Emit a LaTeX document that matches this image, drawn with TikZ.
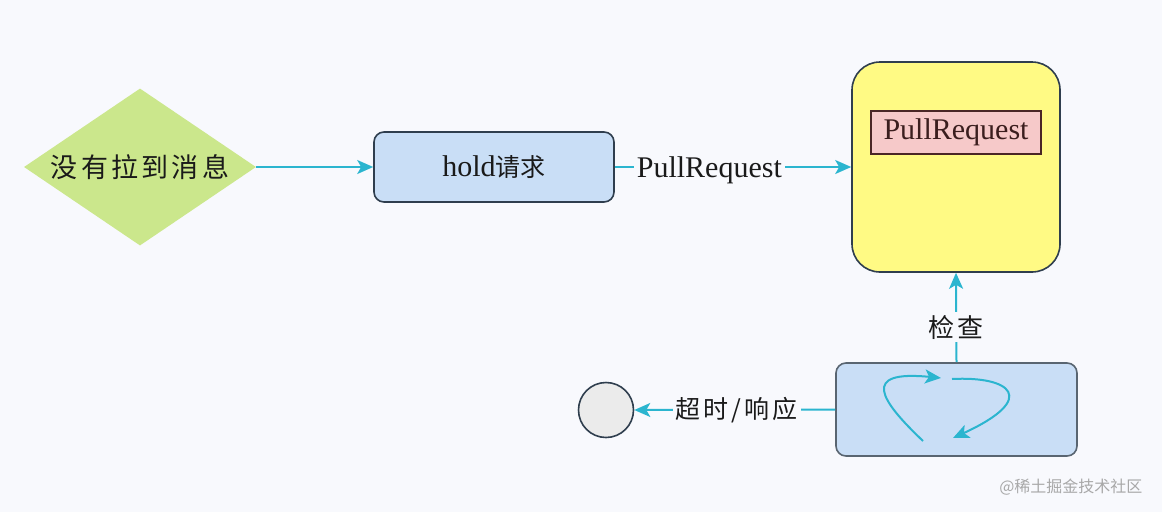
\documentclass[tikz,border=0pt]{standalone}
\usepackage{fontspec}
\setmainfont{Liberation Serif}
\newfontfamily\cjk{Noto Sans CJK SC}
\newfontfamily\cjksp[LetterSpace=12]{Noto Sans CJK SC}
\usetikzlibrary{shapes.geometric,arrows.meta}
\definecolor{bg}{HTML}{F8F9FD}
\definecolor{cyanline}{HTML}{2BB5CF}
\definecolor{greenfill}{HTML}{CBE78C}
\definecolor{bluefill}{HTML}{C9DEF6}
\definecolor{darkedge}{HTML}{2F3E4E}
\definecolor{yellowfill}{HTML}{FFFA84}
\definecolor{pinkfill}{HTML}{F6C9C9}
\definecolor{pinkedge}{HTML}{4A2626}
\definecolor{greyfill}{HTML}{EBEBEB}
\definecolor{txt}{HTML}{1A1A1A}
\definecolor{wm}{HTML}{A8A8A8}
\tikzset{
  arr/.style={draw=cyanline, line width=2pt, -{Stealth[length=16pt,width=14pt,inset=4pt]}},
  lbl/.style={fill=bg, inner sep=3pt, text=txt},
  bluebox/.style={draw=darkedge, line width=1.6pt, fill=bluefill, rounded corners=10pt, inner sep=0pt},
}
\begin{document}
\begin{tikzpicture}[x=1pt,y=-1pt]
\fill[bg] (0,0) rectangle (1162,512);
\useasboundingbox (0,0) rectangle (1162,512);

\node[diamond, fill=greenfill, inner sep=0pt, minimum width=232pt, minimum height=157pt, aspect=1.48, text=txt, font=\cjksp\fontsize{27}{30}\selectfont] (dia) at (140,167) {没有拉到消息};

\node[bluebox, minimum width=240pt, minimum height=70pt, text=txt, font=\fontsize{30}{32}\selectfont] (hold) at (494,167) {hold{\cjk\fontsize{25}{28}\selectfont 请求}};

\node[draw=darkedge, line width=1.6pt, fill=yellowfill, rounded corners=28pt, minimum width=208pt, minimum height=210pt, inner sep=0pt] (yb) at (956,167) {};

\node[draw=pinkedge, line width=1.6pt, fill=pinkfill, minimum width=170pt, minimum height=43pt, inner sep=0pt, text=pinkedge!80!black, font=\fontsize{30}{32}\selectfont] (pr) at (956,132.5) {PullRequest};

\node[bluebox, draw=darkedge!80, minimum width=241pt, minimum height=93pt] (loop) at (956.5,409.5) {};

\node[circle, draw=darkedge, line width=1.6pt, fill=greyfill, minimum size=55pt, inner sep=0pt] (end) at (606,410) {};

\draw[arr] (dia.east) -- (hold.west);
\draw[arr] (hold.east) -- node[lbl, pos=0.4, yshift=-3pt, font=\fontsize{30}{32}\selectfont] {PullRequest} (yb.west);
\draw[arr] (loop.north) -- node[lbl, pos=0.39, font=\cjksp\fontsize{26}{28}\selectfont] {检查} (yb.south);
\draw[arr] (loop.west) -- node[lbl, pos=0.49, font=\cjksp\fontsize{25}{28}\selectfont] {超时/响应} (end.east);

% cycle arrows inside loop box
\draw[arr] (923,441) .. controls (880,400) and (860,370) .. (941,378);
\draw[arr] (952,379) .. controls (1010,376) and (1040,398) .. (953,438);

\node[text=wm, font=\cjk\fontsize{16}{18}\selectfont, anchor=east] (wmark) at (1146,487) {@稀土掘金技术社区};
\end{tikzpicture}
\end{document}
